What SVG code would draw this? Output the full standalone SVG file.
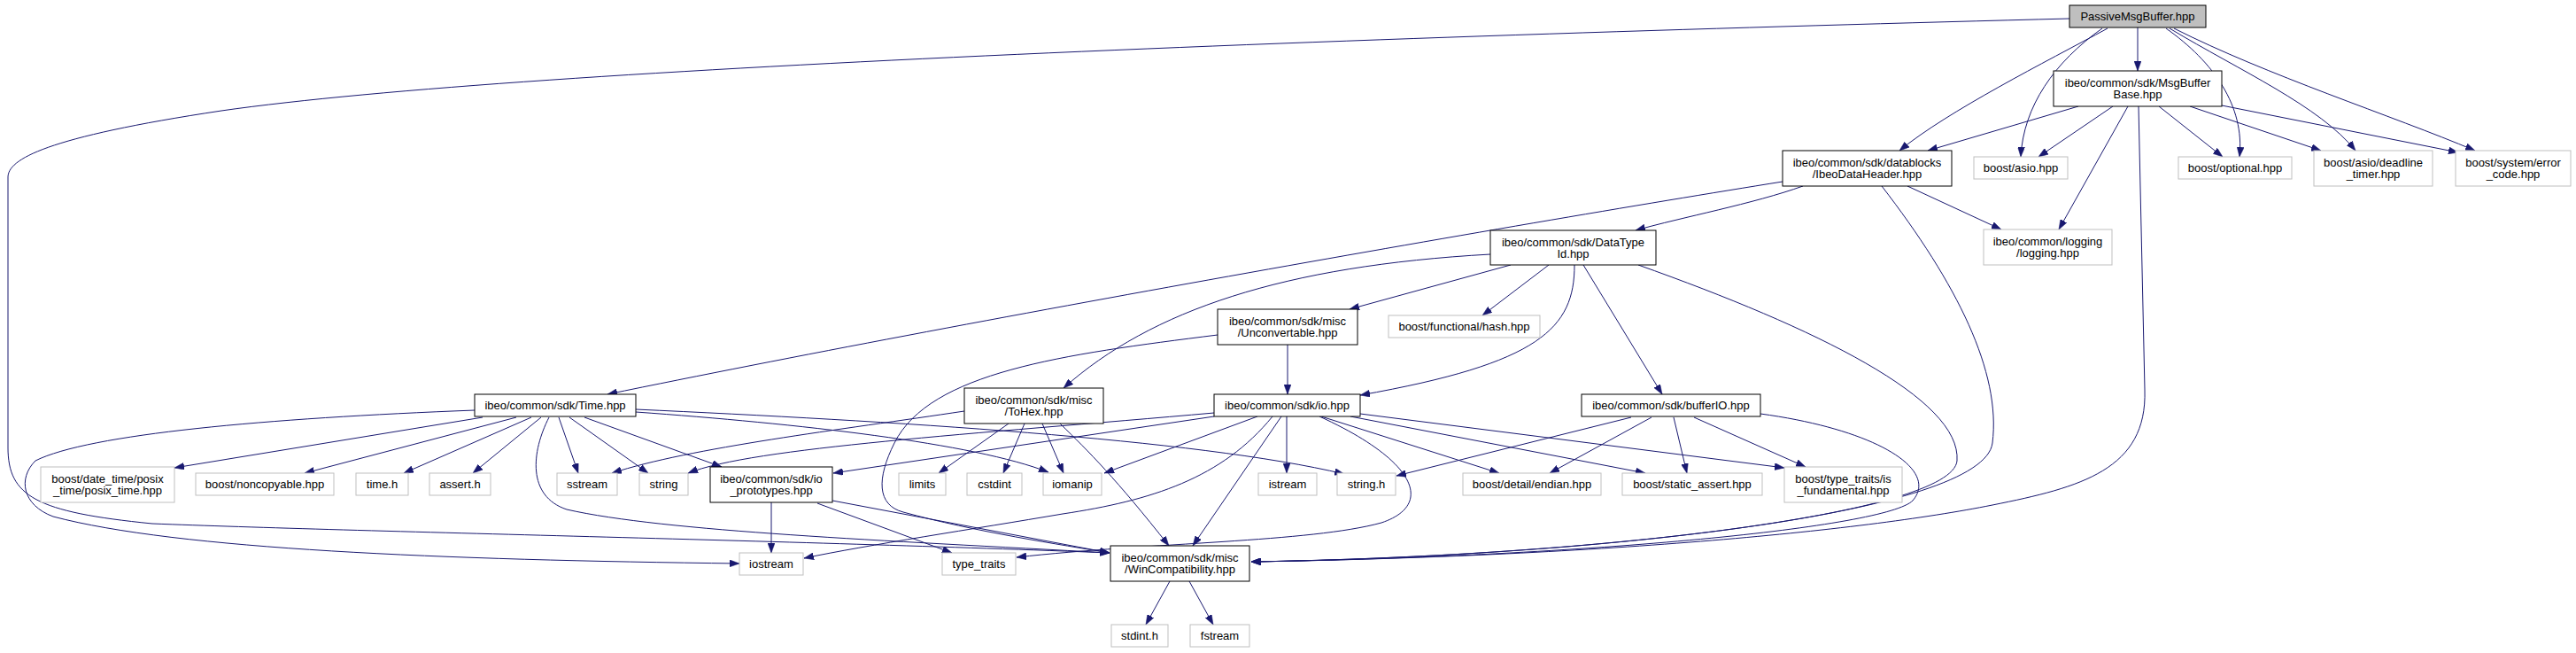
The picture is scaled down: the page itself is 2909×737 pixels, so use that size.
<svg xmlns="http://www.w3.org/2000/svg" width="2909" height="737" viewBox="0 0 2909 737">
<defs>
<style>
.n rect{fill:#ffffff;stroke:#bfbfbf;stroke-width:1}
.d rect{stroke:#000000}
.r rect{fill:#bfbfbf;stroke:#000000}
text{font-family:"Liberation Sans",Arial,Helvetica,sans-serif;font-size:13px;fill:#000000;text-anchor:middle}
.e path{fill:none;stroke:#191970;stroke-width:1;marker-end:url(#ah)}
</style>
<marker id="ah" markerUnits="userSpaceOnUse" markerWidth="11" markerHeight="8" refX="11" refY="4" orient="auto">
<path d="M0,0 L11,4 L0,8 z" fill="#191970" stroke="#191970" stroke-width="0.5"/>
</marker>
</defs>
<rect width="2909" height="737" fill="#ffffff"/>
<g id="edges" class="e">
<!-- PassiveMsgBuffer -->
<path d="M2414,31 L2414,80"/>
<path d="M2380,32 C2310,70 2200,125 2145,170"/>
<path d="M2374,32 C2320,70 2285,120 2282,177"/>
<path d="M2446,32 C2500,70 2535,120 2529,177"/>
<path d="M2450,32 C2530,80 2620,120 2660,170"/>
<path d="M2455,32 C2560,85 2700,130 2795,170"/>
<path d="M2337,21 C1600,40 600,75 250,125 C50,155 9,180 9,200 L9,505 C9,560 40,578 172,591 C400,600 900,610 1253,624"/>
<!-- MsgBufferBase -->
<path d="M2347,120 L2177,170"/>
<path d="M2386,120 L2302,177"/>
<path d="M2403,120 L2325,259"/>
<path d="M2438,120 L2510,177"/>
<path d="M2473,120 L2621,170"/>
<path d="M2509,119 L2776,172"/>
<path d="M2415,120 L2422,440 C2425,530 2350,550 2250,570 C2100,600 1800,628 1413,634"/>
<!-- IbeoDataHeader -->
<path d="M2013,205 C1700,255 1100,360 686,445"/>
<path d="M2036,210 C1980,230 1900,245 1847,260"/>
<path d="M2154,210 L2260,259"/>
<path d="M2125,210 C2210,320 2260,420 2250,500 C2240,580 1800,628 1413,634"/>
<!-- DataTypeId -->
<path d="M1683,287 C1450,300 1300,350 1201,438"/>
<path d="M1706,299 L1524,349"/>
<path d="M1749,299 L1674,356"/>
<path d="M1778,299 C1778,370 1740,410 1536,446"/>
<path d="M1788,299 L1877,445"/>
<path d="M1850,299 C2050,370 2215,450 2210,520 C2205,580 1800,628 1413,634"/>
<!-- Unconvertable -->
<path d="M1454,389 L1454,445"/>
<path d="M1375,378 C1200,400 1050,420 1010,500 C990,540 990,570 1020,578 C1100,600 1200,615 1253,624"/>
<!-- ToHex -->
<path d="M1089,464 C950,485 780,505 691,534"/>
<path d="M1139,478 L1060,534"/>
<path d="M1157,478 L1133,534"/>
<path d="M1177,478 L1201,534"/>
<path d="M1197,478 C1230,510 1260,540 1320,616"/>
<!-- io.hpp -->
<path d="M1371,466 C1100,490 850,505 777,534"/>
<path d="M1371,470 L941,534"/>
<path d="M1420,470 L1247,534"/>
<path d="M1437,470 C1380,540 1300,565 1200,580 C1100,597 980,615 908,630"/>
<path d="M1447,470 L1347,616"/>
<path d="M1453,470 L1453,534"/>
<path d="M1490,470 C1600,520 1620,570 1560,590 C1480,612 1300,612 1148,629"/>
<path d="M1492,470 L1693,534"/>
<path d="M1525,470 L1858,534"/>
<path d="M1536,467 L2015,528"/>
<!-- bufferIO -->
<path d="M1842,471 L1577,537"/>
<path d="M1865,471 L1750,534"/>
<path d="M1890,471 L1905,534"/>
<path d="M1913,471 L2039,527"/>
<path d="M1988,467 C2120,485 2190,530 2160,565 C2130,595 1800,628 1413,634"/>
<!-- Time.hpp -->
<path d="M545,471 L197,528"/>
<path d="M583,471 L344,534"/>
<path d="M600,471 L456,534"/>
<path d="M611,471 L534,534"/>
<path d="M631,471 L653,534"/>
<path d="M643,471 L732,534"/>
<path d="M660,471 L815,527"/>
<path d="M536,463 C300,472 100,490 40,520 C20,540 25,570 60,583 C200,620 500,632 835,636"/>
<path d="M620,471 C600,510 595,560 640,575 C750,600 1000,610 1253,624"/>
<path d="M718,462 C1000,475 1350,495 1518,535"/>
<path d="M718,465 C900,478 1100,500 1184,533"/>
<!-- io_prototypes -->
<path d="M871,567 L871,624"/>
<path d="M923,568 L1075,624"/>
<path d="M940,565 L1253,624"/>
<!-- WinCompatibility -->
<path d="M1321,656 L1294,705"/>
<path d="M1343,656 L1370,705"/>
</g>
<g id="n_passive" class="n r"><rect x="2337" y="6" width="154" height="25"/><text x="2414" y="23">PassiveMsgBuffer.hpp</text></g>
<g id="n_msgbufferbase" class="n d"><rect x="2319" y="80" width="190" height="40"/><text x="2414" y="98">ibeo/common/sdk/MsgBuffer</text><text x="2414" y="111">Base.hpp</text></g>
<g id="n_ibeodataheader" class="n d"><rect x="2013" y="170" width="191" height="40"/><text x="2108.5" y="188">ibeo/common/sdk/datablocks</text><text x="2108.5" y="201">/IbeoDataHeader.hpp</text></g>
<g id="n_asio" class="n"><rect x="2229" y="177" width="106" height="25"/><text x="2282" y="194">boost/asio.hpp</text></g>
<g id="n_optional" class="n"><rect x="2460" y="177" width="128" height="25"/><text x="2524" y="194">boost/optional.hpp</text></g>
<g id="n_deadline" class="n"><rect x="2613" y="170" width="134" height="40"/><text x="2680" y="188">boost/asio/deadline</text><text x="2680" y="201">_timer.hpp</text></g>
<g id="n_errorcode" class="n"><rect x="2773" y="170" width="130" height="40"/><text x="2838" y="188">boost/system/error</text><text x="2838" y="201">_code.hpp</text></g>
<g id="n_logging" class="n"><rect x="2240" y="259" width="145" height="40"/><text x="2312.5" y="277">ibeo/common/logging</text><text x="2312.5" y="290">/logging.hpp</text></g>
<g id="n_datatypeid" class="n d"><rect x="1683" y="260" width="187" height="39"/><text x="1776.5" y="278">ibeo/common/sdk/DataType</text><text x="1776.5" y="291">Id.hpp</text></g>
<g id="n_hash" class="n"><rect x="1568" y="356" width="171" height="25"/><text x="1653.5" y="373">boost/functional/hash.hpp</text></g>
<g id="n_unconvertable" class="n d"><rect x="1375" y="349" width="158" height="40"/><text x="1454" y="367">ibeo/common/sdk/misc</text><text x="1454" y="380">/Unconvertable.hpp</text></g>
<g id="n_tohex" class="n d"><rect x="1089" y="438" width="157" height="40"/><text x="1167.5" y="456">ibeo/common/sdk/misc</text><text x="1167.5" y="469">/ToHex.hpp</text></g>
<g id="n_io" class="n d"><rect x="1371" y="445" width="165" height="25"/><text x="1453.5" y="462">ibeo/common/sdk/io.hpp</text></g>
<g id="n_bufferio" class="n d"><rect x="1786" y="445" width="202" height="25"/><text x="1887" y="462">ibeo/common/sdk/bufferIO.hpp</text></g>
<g id="n_time" class="n d"><rect x="536" y="445" width="182" height="25"/><text x="627" y="462">ibeo/common/sdk/Time.hpp</text></g>
<g id="n_posix" class="n"><rect x="46" y="527" width="151" height="40"/><text x="121.5" y="545">boost/date_time/posix</text><text x="121.5" y="558">_time/posix_time.hpp</text></g>
<g id="n_noncopyable" class="n"><rect x="221" y="534" width="156" height="25"/><text x="299" y="551">boost/noncopyable.hpp</text></g>
<g id="n_timeh" class="n"><rect x="402" y="534" width="59" height="25"/><text x="431.5" y="551">time.h</text></g>
<g id="n_asserth" class="n"><rect x="485" y="534" width="69" height="25"/><text x="519.5" y="551">assert.h</text></g>
<g id="n_sstream" class="n"><rect x="629" y="534" width="68" height="25"/><text x="663" y="551">sstream</text></g>
<g id="n_string" class="n"><rect x="722" y="534" width="55" height="25"/><text x="749.5" y="551">string</text></g>
<g id="n_ioprototypes" class="n d"><rect x="802" y="527" width="138" height="40"/><text x="871" y="545">ibeo/common/sdk/io</text><text x="871" y="558">_prototypes.hpp</text></g>
<g id="n_limits" class="n"><rect x="1015" y="534" width="53" height="25"/><text x="1041.5" y="551">limits</text></g>
<g id="n_cstdint" class="n"><rect x="1092" y="534" width="62" height="25"/><text x="1123" y="551">cstdint</text></g>
<g id="n_iomanip" class="n"><rect x="1178" y="534" width="66" height="25"/><text x="1211" y="551">iomanip</text></g>
<g id="n_istream" class="n"><rect x="1421" y="534" width="66" height="25"/><text x="1454" y="551">istream</text></g>
<g id="n_stringh" class="n"><rect x="1510" y="534" width="66" height="25"/><text x="1543" y="551">string.h</text></g>
<g id="n_endian" class="n"><rect x="1652" y="534" width="156" height="25"/><text x="1730" y="551">boost/detail/endian.hpp</text></g>
<g id="n_staticassert" class="n"><rect x="1832" y="534" width="158" height="25"/><text x="1911" y="551">boost/static_assert.hpp</text></g>
<g id="n_isfundamental" class="n"><rect x="2015" y="527" width="133" height="40"/><text x="2081.5" y="545">boost/type_traits/is</text><text x="2081.5" y="558">_fundamental.hpp</text></g>
<g id="n_iostream" class="n"><rect x="835" y="624" width="72" height="25"/><text x="871" y="641">iostream</text></g>
<g id="n_typetraits" class="n"><rect x="1064" y="624" width="83" height="25"/><text x="1105.5" y="641">type_traits</text></g>
<g id="n_wincompat" class="n d"><rect x="1254" y="616" width="157" height="40"/><text x="1332.5" y="634">ibeo/common/sdk/misc</text><text x="1332.5" y="647">/WinCompatibility.hpp</text></g>
<g id="n_stdinth" class="n"><rect x="1255" y="705" width="64" height="25"/><text x="1287" y="722">stdint.h</text></g>
<g id="n_fstream" class="n"><rect x="1344" y="705" width="67" height="25"/><text x="1377.5" y="722">fstream</text></g>
</svg>
